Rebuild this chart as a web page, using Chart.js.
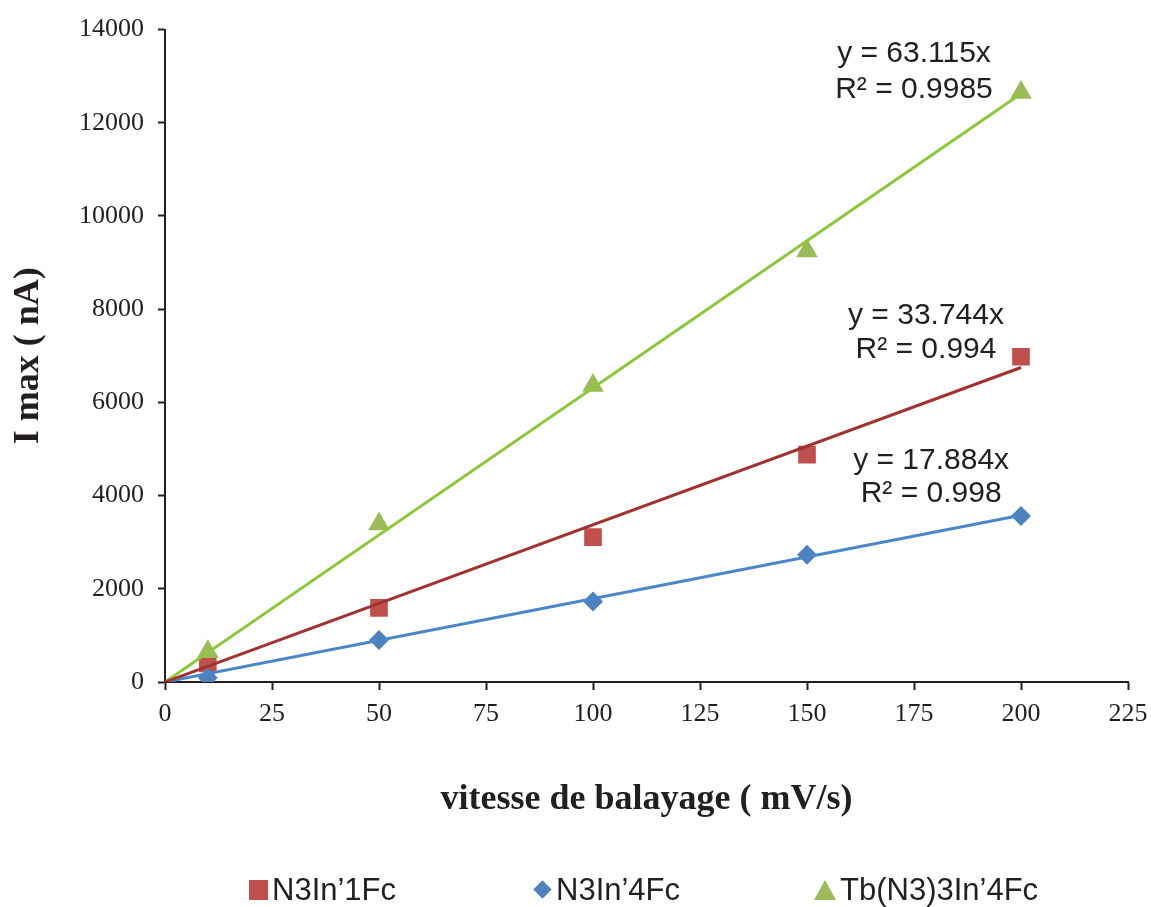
<!DOCTYPE html>
<html>
<head>
<meta charset="utf-8">
<script src="https://cdn.jsdelivr.net/npm/chart.js@4.4.1/dist/chart.umd.min.js"></script>
<style>
  html, body { margin: 0; padding: 0; background: #fff; overflow: hidden; }
  #wrap { position: relative; width: 1151px; height: 907px; }
  #legend { position: absolute; left: 0; top: 872px; width: 1151px; height: 35px;
    font-family: "Liberation Sans", Arial, sans-serif; font-size: 31px; color: #231f20; }
  .item { position: absolute; top: 0; height: 35px; display: flex; align-items: center; white-space: nowrap; }
  .mk { display: inline-block; margin-right: 4px; }
</style>
</head>
<body>
<div id="wrap">
  <canvas id="chart" width="1151" height="907"></canvas>
  <div id="legend"></div>
</div>
<script>
// donnees
const vitesses = [10, 50, 100, 150, 200];
const nomsSeries = ['N3In’1Fc', 'N3In’4Fc', 'Tb(N3)3In’4Fc'];
const imaxN3In1Fc = [400, 1590, 3110, 4880, 6980];
const imaxN3In4Fc = [90, 900, 1730, 2730, 3560];
const imaxTbN3In4Fc = [650, 3390, 6360, 9250, 12650];

// courbes de tendance (origine -> x = 200)
const trendX = [0, 200];
const trendN3In1Fc = [0, 6749];
const trendN3In4Fc = [0, 3577];
const trendTbN3In4Fc = [0, 12623];

const equations = ['y = 33.744x', 'y = 17.884x', 'y = 63.115x'];
const r2Textes = ['R² = 0.994', 'R² = 0.998', 'R² = 0.9985'];

const yTicks = [0, 2000, 4000, 6000, 8000, 10000, 12000, 14000];
const xTicks = [0, 25, 50, 75, 100, 125, 150, 175, 200, 225];

const couleursMarqueurs = ['#C0504D', '#4F81BD', '#9BBB59'];
const couleursTendance = ['#A03330', '#4A86C8', '#8DC63F'];
const formes = ['rect', 'rectRot', 'triangle'];
const rayons = [12.5, 10, 12.5];

function points(xs, ys) {
  return xs.map((x, i) => ({ x: x, y: ys[i] }));
}

const seriesMesures = [imaxN3In1Fc, imaxN3In4Fc, imaxTbN3In4Fc];
const seriesTendance = [trendN3In1Fc, trendN3In4Fc, trendTbN3In4Fc];

const datasets = [];
seriesMesures.forEach((vals, i) => {
  datasets.push({
    label: nomsSeries[i],
    data: points(vitesses, vals),
    showLine: false,
    pointStyle: formes[i],
    pointRadius: rayons[i],
    pointHoverRadius: rayons[i],
    pointBackgroundColor: couleursMarqueurs[i],
    pointBorderWidth: 0,
    borderColor: couleursMarqueurs[i],
    backgroundColor: couleursMarqueurs[i],
    order: 3 - i
  });
});
seriesTendance.forEach((vals, i) => {
  datasets.push({
    label: 'tendance ' + nomsSeries[i],
    data: points(trendX, vals),
    showLine: true,
    pointRadius: 0,
    borderColor: couleursTendance[i],
    borderWidth: 3,
    order: 0
  });
});

// positions des equations (en unites des axes)
const positionsEquations = [
  { x: 177.8, y1: 7850, y2: 7120 },
  { x: 179, y1: 4740, y2: 4030 },
  { x: 175, y1: 13490, y2: 12720 }
];

const equationsPlugin = {
  id: 'equations',
  afterDatasetsDraw(chart) {
    const ctx = chart.ctx;
    const xs = chart.scales.x, ys = chart.scales.y;
    ctx.save();
    ctx.font = '30px "Liberation Sans", Arial, sans-serif';
    ctx.fillStyle = '#231f20';
    ctx.textAlign = 'center';
    ctx.textBaseline = 'middle';
    positionsEquations.forEach((p, i) => {
      const px = xs.getPixelForValue(p.x);
      ctx.fillText(equations[i], px, ys.getPixelForValue(p.y1));
      ctx.fillText(r2Textes[i], px, ys.getPixelForValue(p.y2));
    });
    ctx.restore();
  }
};

const policeTicks = { family: '"Liberation Serif", "Times New Roman", serif', size: 26 };
const couleurTexte = '#231f20';

const chart = new Chart(document.getElementById('chart'), {
  type: 'scatter',
  data: { datasets: datasets },
  options: {
    responsive: false,
    animation: false,
    layout: { padding: { left: 0, right: 23, top: 28, bottom: 75 } },
    plugins: {
      legend: { display: false },
      tooltip: { enabled: false }
    },
    scales: {
      x: {
        type: 'linear',
        min: 0, max: 225,
        afterBuildTicks: s => { s.ticks = xTicks.map(v => ({ value: v })); },
        afterFit: s => { s.height = 150; s.paddingRight = 0; s.paddingLeft = 0; },
        grid: { drawOnChartArea: false, tickLength: 8, tickWidth: 2, tickColor: couleurTexte },
        border: { color: couleurTexte, width: 2 },
        ticks: { font: policeTicks, color: couleurTexte, padding: 9, maxRotation: 0 },
        title: {
          display: true,
          text: 'vitesse de balayage ( mV/s)',
          font: { family: '"Liberation Serif", "Times New Roman", serif', size: 36, weight: 'bold' },
          color: couleurTexte,
          padding: { top: 0, bottom: 11 }
        }
      },
      y: {
        type: 'linear',
        min: 0, max: 14000,
        afterBuildTicks: s => { s.ticks = yTicks.map(v => ({ value: v })); },
        afterFit: s => { s.width = 165; },
        grid: { drawOnChartArea: false, tickLength: 7, tickWidth: 2, tickColor: couleurTexte },
        border: { color: couleurTexte, width: 2 },
        ticks: { font: policeTicks, color: couleurTexte, padding: 14, callback: v => String(v) },
        title: {
          display: true,
          text: 'I max ( nA)',
          font: { family: '"Liberation Serif", "Times New Roman", serif', size: 36, weight: 'bold' },
          color: couleurTexte,
          padding: { top: 7, bottom: 0 }
        }
      }
    }
  },
  plugins: [equationsPlugin]
});

// legende en bas
const positionsLegende = [249, 533, 814];
const legende = document.getElementById('legend');
nomsSeries.forEach((nom, i) => {
  const item = document.createElement('div');
  item.className = 'item';
  item.style.left = positionsLegende[i] + 'px';
  const mk = document.createElement('span');
  mk.className = 'mk';
  const c = couleursMarqueurs[i];
  if (formes[i] === 'rect') {
    mk.style.cssText = 'width:19px;height:20px;background:' + c + ';margin-right:4px';
  } else if (formes[i] === 'rectRot') {
    mk.style.cssText = 'width:13px;height:13px;background:' + c + ';transform:rotate(45deg);margin:0 7px 0 3px';
  } else {
    mk.style.cssText = 'width:0;height:0;border-left:11px solid transparent;border-right:11px solid transparent;border-bottom:20px solid ' + c + ';margin-right:4px';
  }
  item.appendChild(mk);
  item.appendChild(document.createTextNode(nom));
  legende.appendChild(item);
});
</script>
</body>
</html>
